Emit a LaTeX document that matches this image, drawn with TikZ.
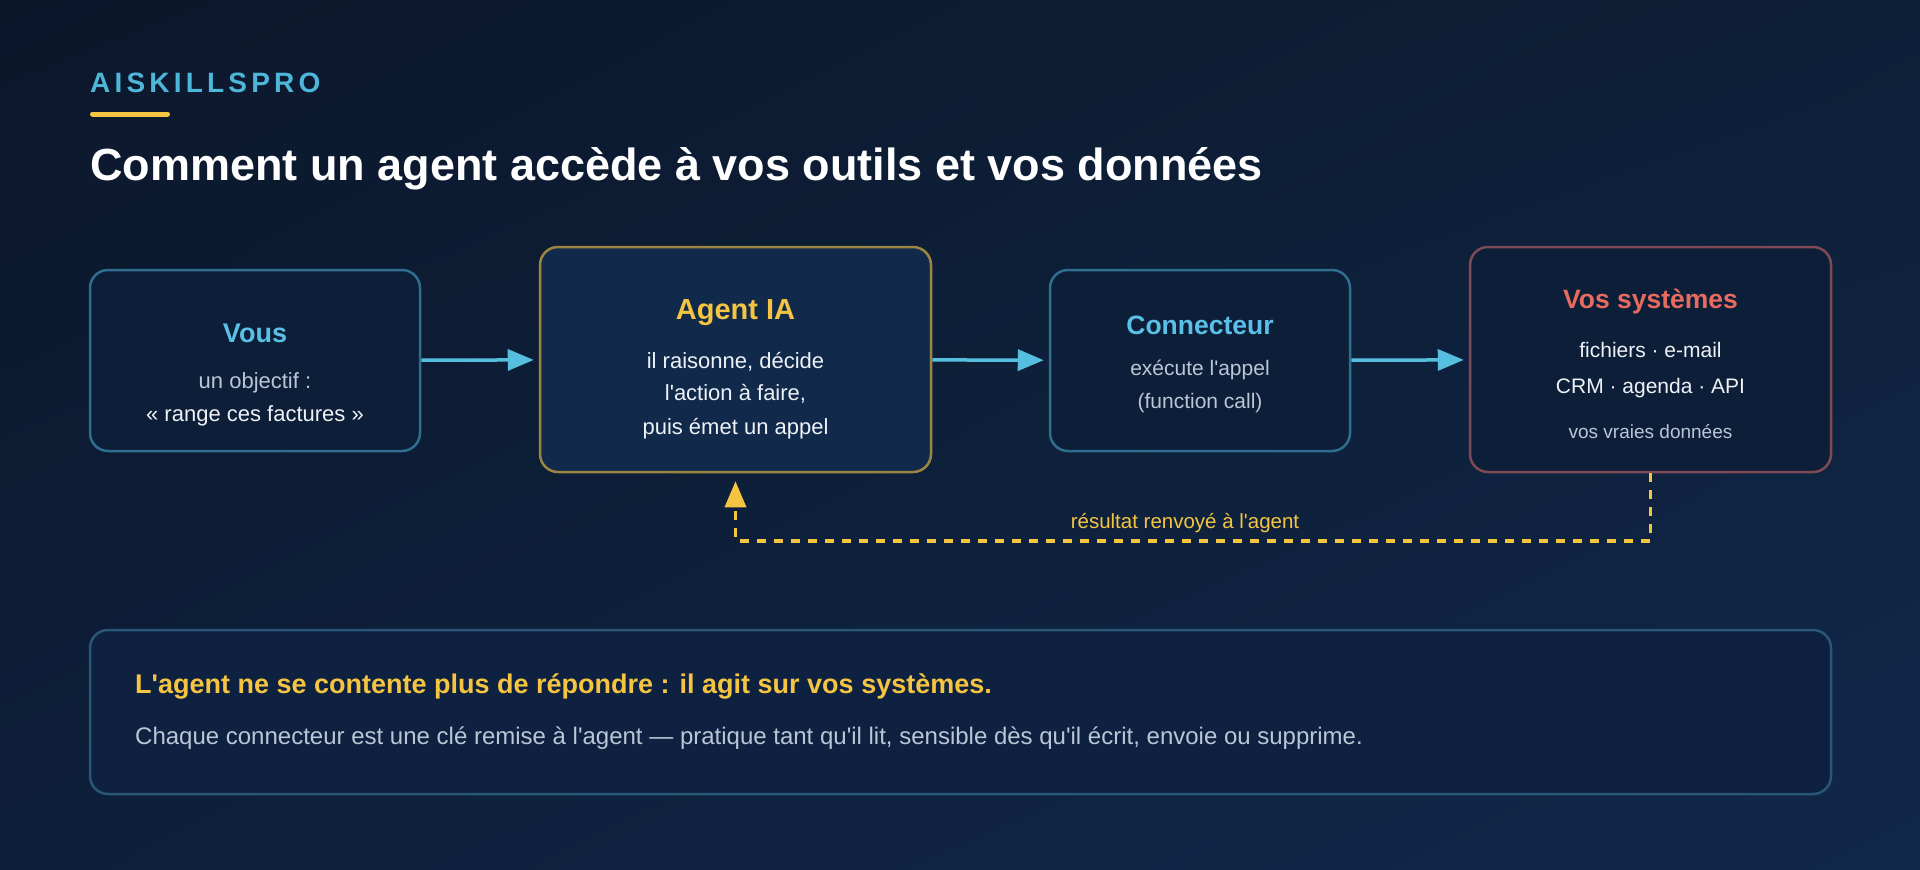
\documentclass[tikz,border=0pt]{standalone}
\usepackage{fontspec}
\setmainfont{Liberation Sans}[Ligatures=TeXOff]
\newfontfamily\brandfont{Liberation Sans}[LetterSpace=15]
\usetikzlibrary{arrows.meta,shadings}
\newcommand\sz[1]{\fontsize{#1}{#1}\selectfont}
\definecolor{bgA}{HTML}{0B172B}
\definecolor{bgB}{HTML}{0E2038}
\definecolor{bgC}{HTML}{0E1F3A}
\definecolor{bgD}{HTML}{10284A}
\definecolor{brandC}{HTML}{4DB6D9}
\definecolor{cyanT}{HTML}{5BC0E8}
\definecolor{flowC}{HTML}{56BFE0}
\definecolor{gold}{HTML}{F5C542}
\definecolor{redT}{HTML}{E86B5F}
\definecolor{boxFill}{HTML}{0D1F38}
\definecolor{agentFill}{HTML}{112A4C}
\definecolor{noteFill}{HTML}{0E2140}
\definecolor{bordBlue}{HTML}{2F6E8F}
\definecolor{bordGold}{HTML}{9C8540}
\definecolor{bordRed}{HTML}{7D4A55}
\definecolor{bordNote}{HTML}{2A5677}
\definecolor{textW}{HTML}{EEF2F7}
\definecolor{textG}{HTML}{B9C6D6}
\begin{document}
\begin{tikzpicture}[x=1pt,y=-1pt,>={Triangle[length=26pt,width=21pt]}]
	\tikzset{box/.style={rounded corners=18pt,line width=2.5pt,inner sep=0pt},
		head/.style={anchor=base,font=\bfseries\sz{26.5}},
		txt/.style={anchor=base,font=\sz{22},text=textW},
		flow/.style={draw=flowC,line width=3.5pt,->,shorten >=5pt},
		back/.style={draw=gold,line width=3.5pt,dash pattern=on 9pt off 8pt,->,shorten >=8pt}
	}
	\shade[upper left=bgA,upper right=bgB,lower left=bgC,lower right=bgD] (0,0) rectangle (1920,870);
	\node[anchor=base west,inner sep=0pt,text=brandC,font=\brandfont\bfseries\sz{28}] (brand) at (90,92) {AISKILLSPRO};
	\draw[gold,line width=5pt,line cap=round] (92.5,114) -- (167.5,114);
	\node[anchor=base west,inner sep=0pt,text=white,font=\bfseries\sz{45}] (title) at (90,180.5) {Comment un agent accède à vos outils et vos données};
	\node[box,draw=bordBlue,fill=boxFill,minimum width=330pt,minimum height=181pt] (vous) at (255,360.5) {};
	\node[box,draw=bordGold,fill=agentFill,minimum width=391pt,minimum height=225pt] (agent) at (735.5,359.5) {};
	\node[box,draw=bordBlue,fill=boxFill,minimum width=300pt,minimum height=181pt] (conn) at (1200,360.5) {};
	\node[box,draw=bordRed,fill=boxFill,minimum width=361pt,minimum height=225pt] (sys) at (1650.5,359.5) {};
	\node[head,text=cyanT,font=\bfseries\sz{27}] (vousT) at (255,342) {Vous};
	\node[txt,text=textG] (vous1) at (255,388.5) {un objectif :};
	\node[txt] (vous2) at (255,421) {« range ces factures »};
	\node[head,text=gold,font=\bfseries\sz{29}] (agentT) at (735.5,319.5) {Agent IA};
	\node[txt] (agent1) at (735.5,368) {il raisonne, décide};
	\node[txt] (agent2) at (735.5,400.5) {l'action à faire,};
	\node[txt] (agent3) at (735.5,434) {puis émet un appel};
	\node[head,text=cyanT] (connT) at (1200,334) {Connecteur};
	\node[txt,text=textG,font=\sz{21}] (conn1) at (1200,375) {exécute l'appel};
	\node[txt,text=textG,font=\sz{21}] (conn2) at (1200,408.5) {(function call)};
	\node[head,text=redT] (sysT) at (1650.5,308) {Vos systèmes};
	\node[txt,font=\sz{21}] (sys1) at (1650.5,357.5) {fichiers · e-mail};
	\node[txt,font=\sz{21}] (sys2) at (1650.5,393.5) {CRM · agenda · API};
	\node[txt,text=textG,font=\sz{19}] (sys3) at (1650.5,438) {vos vraies données};
	\draw[flow] (vous) -- (agent);
	\draw[flow] (agent) -- (conn);
	\draw[flow] (conn) -- (sys);
	\draw[back] (sys.south) -- ++(0,67.5) -| (agent.south);
	\node[txt,text=gold,font=\sz{20.5}] (backlbl) at (1185,528) {résultat renvoyé à l'agent};
	\node[box,draw=bordNote,fill=noteFill,minimum width=1741pt,minimum height=164pt] (note) at (960.5,712) {};
	\node[anchor=base west,inner sep=0pt,text=gold,font=\bfseries\sz{27}] (noteT) at (135,693.5) {L'agent ne se contente plus de répondre : il agit sur vos systèmes.};
	\node[anchor=base west,inner sep=0pt,text=textG,font=\sz{24}] (note1) at (135,744.5) {Chaque connecteur est une clé remise à l'agent — pratique tant qu'il lit, sensible dès qu'il écrit, envoie ou supprime.};
\end{tikzpicture}
\end{document}
